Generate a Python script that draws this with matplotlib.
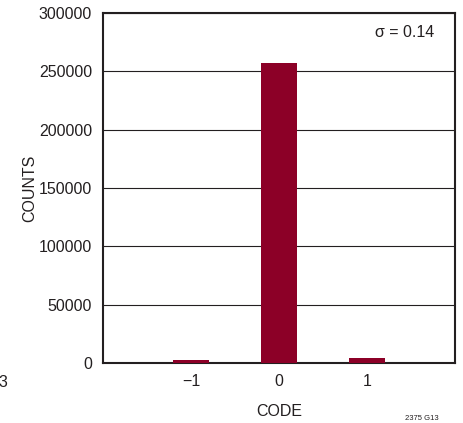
import matplotlib
matplotlib.use("Agg")
import matplotlib.pyplot as plt

codes = [-1, 0, 1]
counts = [2500, 257000, 4500]
xtick_labels = ["\u22121", "0", "1"]
yticks = [0, 50000, 100000, 150000, 200000, 250000, 300000]

plt.rcParams["font.family"] = ["Liberation Sans", "DejaVu Sans"]

fig = plt.figure(figsize=(4.63, 4.23), dpi=100)
ax = fig.add_axes([0.2225, 0.1418, 0.7602, 0.8275])
ax.bar(codes, counts, width=0.4, color="#8c0027", zorder=3)
ax.set_xlim(-2, 2)
ax.set_ylim(0, 300000)
ax.set_yticks(yticks)
ax.set_yticklabels([str(v) for v in yticks])
ax.set_xticks(codes)
ax.set_xticklabels(xtick_labels)
ax.yaxis.grid(True, color="#231f20", linewidth=0.8, zorder=1)
ax.tick_params(length=0, labelsize=11.5, pad=8, colors="#231f20")
for s in ax.spines.values():
    s.set_linewidth(1.5)
    s.set_color("#231f20")
ax.set_xlabel("CODE", fontsize=11.5, labelpad=11, color="#231f20")
ax.set_ylabel("COUNTS", fontsize=11.5, labelpad=1, color="#231f20")
ax.text(0.94, 0.943, "\u03c3 = 0.14", transform=ax.transAxes, ha="right", va="center",
        fontsize=11.5, color="#231f20")
fig.text(-0.003, 0.095, "3", fontsize=11.5, color="#231f20", ha="left", va="center")
fig.text(0.875, 0.002, "2375 G13", fontsize=5.5, color="#231f20", ha="left", va="bottom")
fig.savefig("out.png", dpi=100)
